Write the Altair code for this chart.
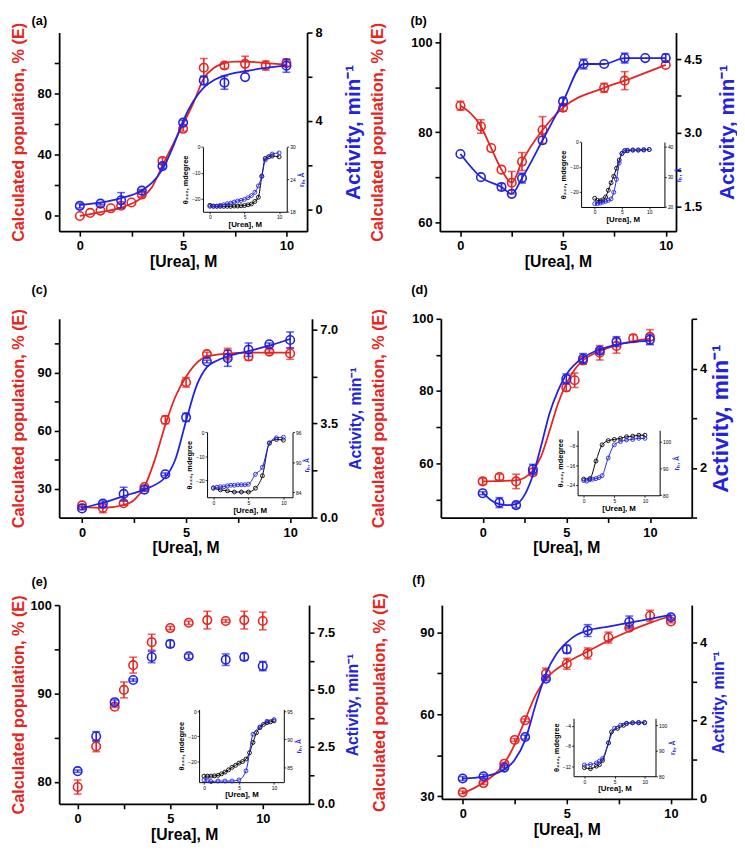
import json
import altair as alt
import pandas as pd

RED = "#E62420"
BLUE = "#2222E0"
BLACK = "#000000"
FONT = "Liberation Sans"

# ---------------- tick labels ----------------
X_TICKS = [0, 2.5, 5, 7.5, 10]
X_LABELS = [0, 5, 10]
INSET_X_TICKS = [0, 5, 10]

# ---------------- panel (a) ----------------
A_RED_X = [0, 0.5, 1, 1.5, 2, 2.5, 3, 4, 5, 6, 7, 8, 9, 10]
A_RED_Y = [0, 2, 3.5, 5, 6.7, 8.8, 14, 36, 57, 97, 98.4, 99.5, 98.4, 100]
A_RED_E = [0, 0, 0, 0, 1.5, 0, 1.5, 2, 1.5, 6, 2, 5, 3, 2]
A_BLUE_X = [0, 1, 2, 3, 4, 5, 6, 7, 8, 10]
A_BLUE_Y = [0.15, 0.25, 0.4, 0.84, 1.95, 3.92, 5.83, 5.73, 5.98, 6.5]
A_BLUE_E = [0.1, 0.05, 0.35, 0.05, 0.1, 0.1, 0.2, 0.3, 0, 0.3]
A_RED_FIT_X = [0, 1, 2, 3, 3.5, 4, 4.5, 5, 5.5, 6, 6.5, 7, 7.5, 8, 9, 10]
A_RED_FIT_Y = [0, 2.5, 5.5, 12, 19, 33, 46.5, 60, 74, 90, 97, 100, 101, 101, 100, 99]
A_BLUE_FIT_X = [0, 1, 2, 3, 3.5, 4, 4.5, 5, 5.5, 6, 6.5, 7, 8, 9, 10]
A_BLUE_FIT_Y = [0.2, 0.3, 0.5, 0.85, 1.2, 1.8, 2.8, 4.0, 4.9, 5.5, 5.85, 6.05, 6.25, 6.4, 6.5]
AI_X = [0, 0.5, 1, 1.5, 2, 2.5, 3, 3.5, 4, 4.5, 5, 5.5, 6, 6.5, 7, 7.5, 8, 8.5, 9, 10]
AI_BLACK_Y = [-22.5, -22.8, -22.9, -22.9, -22.9, -22.9, -22.9, -22.8, -22.8, -22.7,
              -22.6, -22.3, -22, -21, -19.4, -11.3, -4.4, -3.8, -3.5, -3.8]
AI_BLUE_Y = [19.0, 19.0, 19.05, 19.2, 19.3, 19.5, 19.6, 19.8, 20.0, 20.1,
             20.3, 20.6, 21.0, 21.6, 22.8, 24.6, 27.6, 28.2, 28.7, 28.9]

# ---------------- panel (b) ----------------
B_RED_X = [0, 1, 1.5, 2, 2.5, 3, 4, 5, 7, 8, 10]
B_RED_Y = [85.9, 81.3, 76.5, 71.7, 68.8, 73.5, 80.5, 85.5, 89.9, 91.5, 95]
B_RED_E = [1, 1.5, 0, 0, 2.5, 2, 3, 0.8, 1, 2, 0]
B_BLUE_X = [0, 1, 2, 2.5, 3, 4, 5, 6, 7, 8, 9, 10]
B_BLUE_Y = [2.57, 2.1, 1.9, 1.76, 2.08, 2.85, 3.64, 4.4, 4.4, 4.52, 4.52, 4.52]
B_BLUE_E = [0, 0, 0.07, 0, 0.1, 0, 0.07, 0.1, 0, 0.1, 0, 0.08]
BI_X = [0, 0.5, 1, 1.5, 2, 2.5, 3, 3.5, 4, 4.5, 5, 5.5, 6, 7, 8, 9, 10]
BI_BLACK_Y = [-22.5, -23.4, -23.5, -23.1, -22, -19.3, -16.3, -13.7, -10.5, -7.2,
              -4.6, -3.5, -3.5, -3.2, -3.2, -3.2, -3]
BI_BLUE_Y = [21.1, 21.1, 21.3, 21.6, 21.9, 22.2, 22.7, 24.9, 29.2, 34.6,
             37.8, 38.7, 38.9, 38.9, 38.9, 39.1, 39.1]

# ---------------- panel (c) ----------------
C_X = [0, 1, 2, 3, 4, 5, 6, 7, 8, 9, 10]
C_RED_Y = [21.3, 20, 22.4, 30.8, 65.6, 85.1, 99.7, 99.7, 98.5, 101, 100]
C_RED_E = [0.5, 2.5, 1, 1, 2, 2.5, 1, 3, 2, 1, 3]
C_BLUE_Y = [0.34, 0.52, 0.88, 1.04, 1.61, 3.73, 5.81, 5.93, 6.25, 6.45, 6.61]
C_BLUE_E = [0.05, 0.1, 0.25, 0.05, 0.05, 0.15, 0.05, 0.3, 0.25, 0.05, 0.3]
C_RED_FIT_X = [0, 1, 2, 2.5, 3, 3.5, 4, 4.5, 5, 5.5, 6, 7, 8, 10]
C_RED_FIT_Y = [20.5, 20, 21.5, 24, 31, 45, 63, 78, 88, 95, 98.5, 100, 100.5, 100.5]
C_BLUE_FIT_X = [0, 1, 2, 3, 4, 4.5, 5, 5.5, 6, 6.5, 7, 8, 9, 10]
C_BLUE_FIT_Y = [0.35, 0.55, 0.8, 1.05, 1.5, 2.2, 3.6, 4.9, 5.6, 5.85, 6.0, 6.2, 6.4, 6.65]
CI_BLACK_X = [0, 1, 2, 3, 4, 5, 6, 7, 8, 9, 10]
CI_BLACK_Y = [-23.4, -24.1, -24.5, -25, -25, -25, -23.4, -18.2, -4.6, -3, -3.3]
CI_BLUE_X = [0, 0.5, 1, 1.5, 2, 2.5, 3, 3.5, 4, 4.5, 5, 6, 7, 8, 9, 10]
CI_BLUE_Y = [84.9, 85.0, 85.1, 85.1, 85.3, 85.4, 85.4, 85.5, 85.5, 85.5, 85.6,
             87.6, 89.0, 93.9, 94.9, 95.0]

# ---------------- panel (d) ----------------
D_RED_X = [0, 1, 2, 3, 5, 5.5, 6, 7, 8, 9, 10]
D_RED_Y = [55, 56.2, 55, 57.5, 81, 83, 88.5, 90.6, 92.5, 94.6, 95]
D_RED_E = [0.8, 0.8, 2, 0, 1, 2, 1, 2, 2, 1, 2]
D_BLUE_X = [0, 1, 2, 3, 5, 6, 7, 8, 10]
D_BLUE_Y = [1.49, 1.3, 1.25, 1.97, 3.79, 4.2, 4.36, 4.54, 4.58]
D_BLUE_E = [0.03, 0.1, 0.05, 0.1, 0.1, 0.1, 0.05, 0.1, 0.1]
D_RED_FIT_X = [0, 2, 2.5, 3, 3.5, 4, 4.5, 5, 5.5, 6, 7, 8, 9, 10]
D_RED_FIT_Y = [55, 55.3, 56, 58, 62, 69, 76.5, 82, 86, 88.5, 91, 92.7, 93.8, 94.5]
D_BLUE_FIT_X = [0, 0.5, 1, 1.5, 2, 2.5, 3, 3.5, 4, 4.5, 5, 5.5, 6, 7, 8, 10]
D_BLUE_FIT_Y = [1.5, 1.35, 1.27, 1.25, 1.27, 1.45, 1.85, 2.45, 3.1, 3.55, 3.88, 4.08,
                4.22, 4.38, 4.48, 4.56]
DI_BLACK_X = [0, 1, 2, 3, 4, 5, 6, 7, 8, 9, 10]
DI_BLACK_Y = [-21.6, -21.4, -14.3, -7.7, -6.0, -5.5, -5.1, -4.4, -4.2, -3.8, -3.8]
DI_BLUE_X = [0, 0.5, 1, 1.5, 2, 2.5, 3, 4, 5, 6, 7, 8, 9, 10]
DI_BLUE_Y = [85.5, 85.3, 85.8, 86, 86.2, 86.6, 87.3, 93.9, 98.8, 100, 100.6, 100.8,
             101.2, 101.2]

# ---------------- panel (e) ----------------
E_RED_X = [0, 1, 2, 2.5, 3, 4, 5, 6, 7, 8, 9, 10]
E_RED_Y = [79.4, 84.0, 88.5, 90.4, 93.2, 95.8, 97.4, 98.0, 98.3, 98.2, 98.3, 98.2]
E_RED_E = [0.8, 0.6, 0.1, 0.9, 0.9, 0.9, 0.2, 0.2, 1, 0.15, 1, 1]
E_BLUE_X = [0, 1, 2, 3, 4, 5, 6, 8, 9, 10]
E_BLUE_Y = [1.43, 2.96, 4.45, 5.42, 6.43, 7.0, 6.46, 6.31, 6.43, 6.03]
E_BLUE_E = [0.05, 0.2, 0.1, 0.05, 0.25, 0.15, 0.1, 0.25, 0.15, 0.2]
EI_BLACK_X = [0, 0.5, 1, 1.5, 2, 2.5, 3, 3.5, 4, 4.5, 5, 5.5, 6, 6.5, 7, 7.5, 8, 8.5, 9, 9.5, 10]
EI_BLACK_Y = [-25.9, -25.9, -25.9, -25.8, -25.6, -25.0, -24.3, -23.4, -22.4, -21.6,
              -20.7, -20.1, -19.1, -16.6, -12.5, -8.6, -6.6, -5.3, -4.6, -4.3, -3.9]
EI_BLUE_X = [0, 0.5, 1, 2, 3, 4, 5, 6, 7, 8, 9, 10]
EI_BLUE_Y = [82.8, 82.8, 82.5, 82.6, 82.6, 82.6, 82.8, 84.4, 90.9, 92.2, 93.2, 93.5]

# ---------------- panel (f) ----------------
F_RED_X = [0, 1, 2, 2.5, 3, 4, 5, 6, 7, 8, 9, 10]
F_RED_Y = [31.4, 34.8, 41.9, 50.6, 57.8, 74.9, 78.5, 82.3, 88.1, 91.7, 96.1, 94]
F_RED_E = [0.5, 0.5, 0.5, 0.5, 0.5, 2, 2, 2, 2, 0.5, 2, 0.5]
F_BLUE_X = [0, 1, 2, 3, 4, 5, 6, 8, 10]
F_BLUE_Y = [0.52, 0.58, 0.8, 1.58, 3.07, 3.82, 4.3, 4.52, 4.64]
F_BLUE_E = [0.05, 0.05, 0.05, 0.05, 0.05, 0.1, 0.15, 0.15, 0.05]
F_RED_FIT_X = [0, 1, 2, 2.5, 3, 3.5, 4, 4.5, 5, 6, 7, 8, 9, 10]
F_RED_FIT_Y = [31, 35, 42, 49, 58, 67, 73, 76.5, 79, 83, 87, 90.5, 93.5, 96]
F_BLUE_FIT_X = [0, 1, 2, 2.5, 3, 3.5, 4, 4.5, 5, 5.5, 6, 7, 8, 9, 10]
F_BLUE_FIT_Y = [0.52, 0.57, 0.75, 1.0, 1.5, 2.4, 3.2, 3.7, 4.0, 4.2, 4.3, 4.4, 4.5, 4.6, 4.7]
FI_BLACK_X = [0, 1, 2, 2.5, 3, 4, 4.5, 5.5, 6.5, 7, 8, 9, 10]
FI_BLACK_Y = [-12.3, -12.5, -12, -11.7, -10.9, -7.4, -5.2, -4.5, -3.9, -3.5, -3.4, -3.4, -3.4]
FI_BLUE_X = [0, 1, 2, 2.5, 3, 4, 5, 6, 7, 8, 9, 10]
FI_BLUE_Y = [84.4, 84.6, 85.2, 85.9, 86.9, 93.1, 98.8, 100, 100.6, 100.9, 101.1, 101.1]


def pts_df(x, y, e):
    return pd.DataFrame({"x": x, "y": y, "e": e,
                         "lo": [v - d for v, d in zip(y, e)],
                         "hi": [v + d for v, d in zip(y, e)]})


def line_df(x, y):
    return pd.DataFrame({"x": x, "y": y})


def series(pts, fit, color, xsc, xax, ysc, yax, size, sw, lw, cap):
    X = alt.X("x:Q", scale=xsc, axis=xax)
    Y = alt.Y("y:Q", scale=ysc, axis=yax)
    layers = []
    if fit is not None:
        layers.append(alt.Chart(fit).mark_line(color=color, strokeWidth=lw,
                                               interpolate="monotone").encode(x=X, y=Y))
    if "e" in pts.columns:
        layers.append(alt.Chart(pts).transform_filter("datum.e > 0")
                      .mark_errorbar(ticks=True, size=cap, thickness=sw, color=color)
                      .encode(x=X, y=alt.Y("lo:Q", scale=ysc, axis=yax), y2="hi:Q"))
    layers.append(alt.Chart(pts).mark_point(shape="circle", filled=False, color=color,
                                            size=size, strokeWidth=sw, opacity=1)
                  .encode(x=X, y=Y))
    return alt.layer(*layers)


def sel_expr(vals):
    return "indexof(%s, datum.value) >= 0 ? datum.label : ''" % json.dumps(vals)


def panel(P):
    W, H = P["w"], P["h"]
    xsc = alt.Scale(domain=P["xdom"], nice=False, zero=False)
    xax = alt.Axis(orient="bottom", values=X_TICKS, labelExpr=sel_expr(X_LABELS),
                   title="[Urea], M", titleFontSize=16, labelFontSize=13,
                   labelPadding=4, titlePadding=1)
    lsc = alt.Scale(domain=P["ldom"], nice=False, zero=False)
    lax = alt.Axis(orient="left", values=P["lticks"], labelExpr=sel_expr(P["llab"]),
                   title="Calculated population, % (E)", titleColor=RED,
                   titleFontSize=16.5, minExtent=P["lext"], maxExtent=P["lext"],
                   titlePadding=P["ltp"])
    rsc = alt.Scale(domain=P["rdom"], nice=False, zero=False)
    rax = alt.Axis(orient="right", values=P["rticks"], labelExpr=sel_expr(P["rlab"]),
                   format=P["rfmt"], title="Activity, min⁻¹", titleColor=BLUE,
                   titleFontSize=P["rfs"], titleAngle=270, titleBaseline="top",
                   minExtent=P["rext"], maxExtent=P["rext"], titlePadding=P["rtp"])

    ix0, ix1 = P["ix"][0] * W, P["ix"][1] * W
    iy0, iy1 = P["iy"][0] * H, P["iy"][1] * H
    ixsc = alt.Scale(domain=P["ixdom"], range=[ix0, ix1], nice=False, zero=False)
    ilsc = alt.Scale(domain=P["ildom"], range=[iy1, iy0], nice=False, zero=False)
    irsc = alt.Scale(domain=P["irdom"], range=[iy1, iy0], nice=False, zero=False)
    small = dict(labelFontSize=5, tickSize=2, tickWidth=0.8, domainWidth=1,
                 labelPadding=1, labelFontWeight="normal")
    ixax = alt.Axis(orient="bottom", offset=-(H - iy1), values=INSET_X_TICKS,
                    title="[Urea], M", titleFontSize=8, titlePadding=1, **small)
    ilax = alt.Axis(orient="left", offset=-ix0, values=P["ilticks"],
                    title="θ₂₂₂, mdegree", titleFontSize=7.5, titlePadding=2, **small)
    irax = alt.Axis(orient="right", offset=-(W - ix1), values=P["irticks"],
                    title="rₕ, Å", titleColor=BLUE, titleFontSize=7, titleAngle=270,
                    titleBaseline="top", titlePadding=2, **small)

    red = series(P["red"], P["redfit"], RED, xsc, xax, lsc, lax, 75, 1.6, 1.8, 8)
    blue = series(P["blue"], P["bluefit"], BLUE, xsc, None, rsc, rax, 75, 1.6, 1.8, 8)
    ib = series(P["iblack"], P["iblack"][["x", "y"]], BLACK, ixsc, ixax, ilsc, ilax,
                16, 0.9, 1, 3)
    iu = series(P["iblue"], P["iblue"][["x", "y"]], BLUE, ixsc, None, irsc, irax,
                16, 0.9, 1, 3)

    return alt.layer(red, blue, ib, iu).resolve_scale(
        x="independent", y="independent").properties(
        width=W, height=H,
        title=alt.TitleParams(P["name"], anchor="start", frame="group", dx=P["tdx"],
                              offset=P["toff"], fontSize=13, fontWeight="bold",
                              font=FONT, color=BLACK))


PANELS = {
    "a": dict(name="(a)", w=252, h=202, xdom=[-1, 11], ldom=[-10, 120],
              lticks=[0, 20, 40, 60, 80, 100], llab=[0, 40, 80],
              rdom=[-1, 8], rticks=[0, 2, 4, 6, 8], rlab=[0, 4, 8], rfmt="d",
              lext=28, ltp=5, rext=24, rtp=12, rfs=21, tdx=-28, toff=-6,
              red=pts_df(A_RED_X, A_RED_Y, A_RED_E), redfit=line_df(A_RED_FIT_X, A_RED_FIT_Y),
              blue=pts_df(A_BLUE_X, A_BLUE_Y, A_BLUE_E), bluefit=line_df(A_BLUE_FIT_X, A_BLUE_FIT_Y),
              ix=[0.580, 0.918], iy=[0.576, 0.902], ixdom=[-1, 11.1], ildom=[-25, 0],
              irdom=[18, 30], ilticks=[-20, -10, 0], irticks=[18, 24, 30],
              iblack=line_df(AI_X, AI_BLACK_Y), iblue=line_df(AI_X, AI_BLUE_Y)),
    "b": dict(name="(b)", w=240, h=202, xdom=[-1, 10.5], ldom=[58, 102.2],
              lticks=[60, 70, 80, 90, 100], llab=[60, 80, 100],
              rdom=[1.0, 5.04], rticks=[1.5, 2.25, 3.0, 3.75, 4.5], rlab=[1.5, 3.0, 4.5],
              rfmt=".1f", lext=36, ltp=19, rext=31, rtp=10, rfs=21, tdx=-30, toff=-6,
              red=pts_df(B_RED_X, B_RED_Y, B_RED_E), redfit=line_df(B_RED_X, B_RED_Y),
              blue=pts_df(B_BLUE_X, B_BLUE_Y, B_BLUE_E), bluefit=line_df(B_BLUE_X, B_BLUE_Y),
              ix=[0.598, 0.951], iy=[0.551, 0.878], ixdom=[-2.5, 12.8], ildom=[-26, 0],
              irdom=[20, 41.6], ilticks=[-20, -10, 0], irticks=[20, 30, 40],
              iblack=line_df(BI_X, BI_BLACK_Y), iblue=line_df(BI_X, BI_BLUE_Y)),
    "c": dict(name="(c)", w=257, h=202, xdom=[-1.1, 11.05], ldom=[15, 118],
              lticks=[30, 45, 60, 75, 90, 105], llab=[30, 60, 90],
              rdom=[0, 7.4], rticks=[0, 1.75, 3.5, 5.25, 7.0], rlab=[0, 3.5, 7.0],
              rfmt=".1f", lext=28, ltp=5, rext=24, rtp=12, rfs=16, tdx=-28, toff=12,
              red=pts_df(C_X, C_RED_Y, C_RED_E), redfit=line_df(C_RED_FIT_X, C_RED_FIT_Y),
              blue=pts_df(C_X, C_BLUE_Y, C_BLUE_E), bluefit=line_df(C_BLUE_FIT_X, C_BLUE_FIT_Y),
              ix=[0.585, 0.923], iy=[0.571, 0.898], ixdom=[-0.9, 11.3], ildom=[-27.2, 0],
              irdom=[83, 96], ilticks=[-20, -10, 0], irticks=[84, 90, 96],
              iblack=line_df(CI_BLACK_X, CI_BLACK_Y), iblue=line_df(CI_BLUE_X, CI_BLUE_Y)),
    "d": dict(name="(d)", w=255, h=202, xdom=[-2.5, 12.5], ldom=[45, 100],
              lticks=[50, 60, 70, 80, 90, 100], llab=[60, 80, 100],
              rdom=[1, 5], rticks=[1, 2, 3, 4, 5], rlab=[2, 4], rfmt="d",
              lext=36, ltp=19, rext=12, rtp=6, rfs=23, tdx=-30, toff=12,
              red=pts_df(D_RED_X, D_RED_Y, D_RED_E), redfit=line_df(D_RED_FIT_X, D_RED_FIT_Y),
              blue=pts_df(D_BLUE_X, D_BLUE_Y, D_BLUE_E), bluefit=line_df(D_BLUE_FIT_X, D_BLUE_FIT_Y),
              ix=[0.545, 0.872], iy=[0.561, 0.888], ixdom=[-1, 12.4], ildom=[-28.2, -1.8],
              irdom=[80, 104.2], ilticks=[-24, -16, -8], irticks=[80, 90, 100],
              iblack=line_df(DI_BLACK_X, DI_BLACK_Y), iblue=line_df(DI_BLUE_X, DI_BLUE_Y)),
    "e": dict(name="(e)", w=254, h=202, xdom=[-1, 12.5], ldom=[77.5, 100],
              lticks=[80, 85, 90, 95, 100], llab=[80, 90, 100],
              rdom=[0, 8.7], rticks=[0, 1.25, 2.5, 3.75, 5.0, 6.25, 7.5], rlab=[0, 2.5, 5.0, 7.5],
              rfmt=".1f", lext=28, ltp=5, rext=24, rtp=12, rfs=16, tdx=-28, toff=6,
              red=pts_df(E_RED_X, E_RED_Y, E_RED_E), redfit=None,
              blue=pts_df(E_BLUE_X, E_BLUE_Y, E_BLUE_E), bluefit=None,
              ix=[0.560, 0.899], iy=[0.525, 0.891], ixdom=[-0.7, 11.4], ildom=[-28.3, 0.66],
              irdom=[82.4, 95.3], ilticks=[-20, -10, 0], irticks=[85, 90, 95],
              iblack=line_df(EI_BLACK_X, EI_BLACK_Y), iblue=line_df(EI_BLUE_X, EI_BLUE_Y)),
    "f": dict(name="(f)", w=254, h=197, xdom=[-1, 11], ldom=[29, 100],
              lticks=[30, 45, 60, 75, 90], llab=[30, 60, 90],
              rdom=[0, 4.95], rticks=[0, 1, 2, 3, 4], rlab=[0, 2, 4], rfmt="d",
              lext=36, ltp=19, rext=12, rtp=7, rfs=16, tdx=-30, toff=6,
              red=pts_df(F_RED_X, F_RED_Y, F_RED_E), redfit=line_df(F_RED_FIT_X, F_RED_FIT_Y),
              blue=pts_df(F_BLUE_X, F_BLUE_Y, F_BLUE_E), bluefit=line_df(F_BLUE_FIT_X, F_BLUE_FIT_Y),
              ix=[0.527, 0.855], iy=[0.584, 0.883], ixdom=[-1.8, 11.8], ildom=[-14, -2.5],
              irdom=[80, 102.7], ilticks=[-12, -8, -4], irticks=[80, 90, 100],
              iblack=line_df(FI_BLACK_X, FI_BLACK_Y), iblue=line_df(FI_BLUE_X, FI_BLUE_Y)),
}

pa, pb, pc, pd_, pe, pf = (panel(PANELS[k]) for k in "abcdef")

row1 = alt.hconcat(pa, pb, spacing=7)
row2 = alt.hconcat(pc, pd_, spacing=8)
row3 = alt.hconcat(pe, pf, spacing=12)

chart = alt.vconcat(alt.vconcat(row1, row2, spacing=14), row3, spacing=18).properties(
    padding={"left": 3, "top": 0, "right": 0, "bottom": 0}
).configure_view(stroke=None).configure_axis(
    grid=False, domainColor=BLACK, domainWidth=1.8, tickColor=BLACK, tickWidth=1.6,
    tickSize=5, labelColor=BLACK, labelFont=FONT, labelFontWeight="bold",
    labelFontSize=13, labelPadding=3, titleFont=FONT, titleFontWeight="bold",
    titleColor=BLACK
).configure_concat(spacing=10)

chart.save("out.html", embed_options={"renderer": "svg", "actions": False})
